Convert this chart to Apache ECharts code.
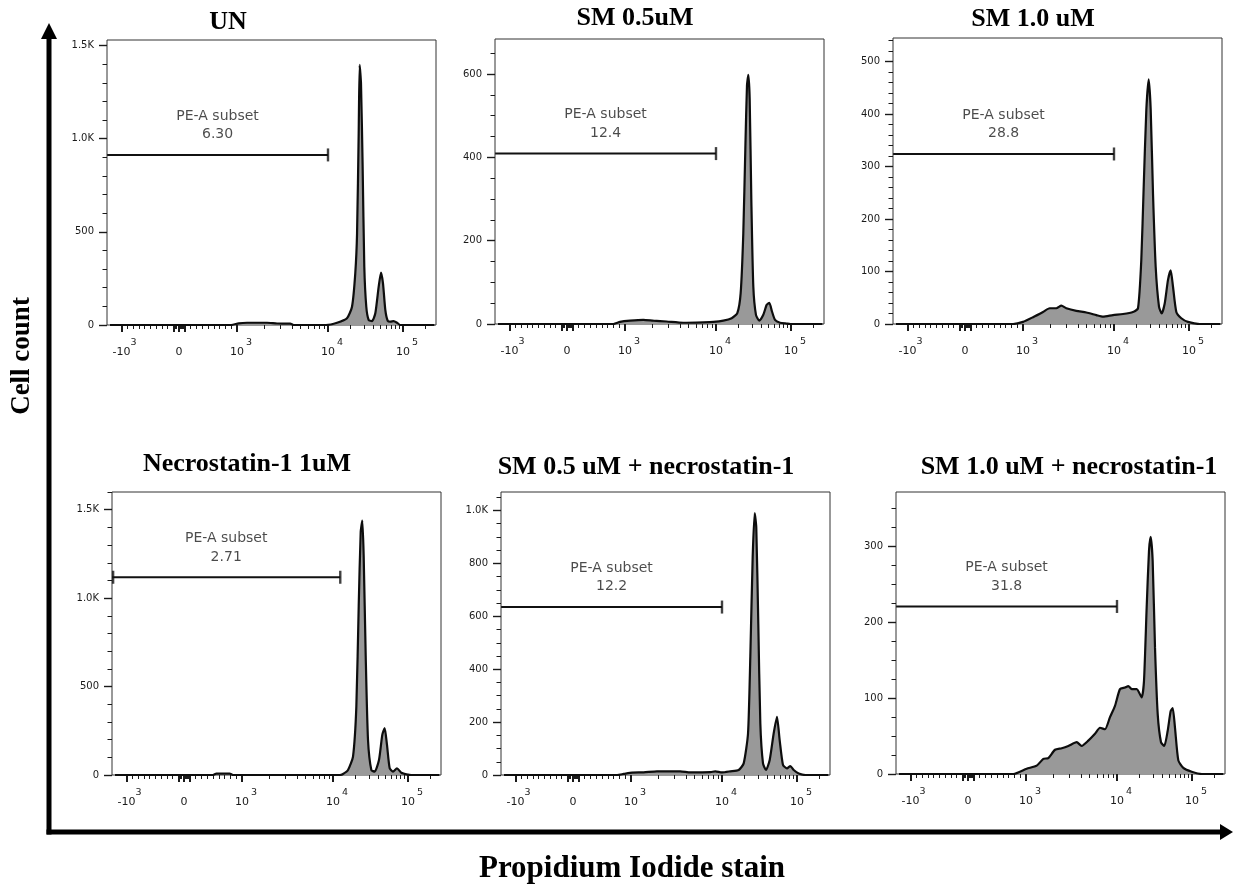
<!DOCTYPE html>
<html>
<head>
<meta charset="utf-8">
<script src="https://cdn.jsdelivr.net/npm/echarts@6/dist/echarts.min.js"></script>
<style>
  html, body { margin: 0; padding: 0; background: #fff; }
  #main { width: 1233px; height: 886px; }
</style>
</head>
<body>
<div id="main"></div>
<script>
// panel titles
var titles = ['UN', 'SM 0.5uM', 'SM 1.0 uM', 'Necrostatin-1 1uM', 'SM 0.5 uM + necrostatin-1', 'SM 1.0 uM + necrostatin-1'];

// histograms, [PI intensity, cell count]
var histUN = [[-1200,0],[900,0],[1044,9],[1290,12],[2140,12],[2750,8],[3850,7],[4200,0],[9500,0],[13200,12],[17900,36],[20900,98],[23100,277],[24400,492],[25650,1029],[26430,1396],[27540,1298],[28970,850],[30480,313],[32400,98],[34860,27],[38600,21],[42760,63],[47400,206],[50900,281],[54100,224],[58100,81],[62500,23],[67800,18],[75100,21],[83200,12],[92100,0],[262000,0]];
var histSM05 = [[-1200,0],[800,0],[914,5],[1135,8],[1590,10],[2050,8],[2870,6],[4380,3],[7260,4],[9350,5],[12500,8],[16170,14],[19230,26],[21320,74],[23120,218],[24600,419],[25880,572],[26980,598],[28130,540],[29580,299],[31440,90],[34120,22],[37780,8],[42730,22],[47400,46],[51400,51],[55800,30],[61200,10],[71300,3],[87600,1],[98000,0],[262000,0]];
var histSM10 = [[-1200,0],[828,0],[1000,4],[1288,13],[1660,23],[1963,30],[2324,30],[2640,35],[2995,30],[3855,25],[4970,22],[6400,17],[7570,14],[9750,17],[13180,19],[17910,23],[20890,30],[23120,122],[24890,262],[26980,408],[29020,466],[30860,408],[33110,249],[35950,109],[39810,33],[43240,20],[47420,39],[52480,84],[56990,102],[61200,71],[67780,23],[78950,11],[96960,4],[139000,0],[262000,0]];
var histNec = [[-1200,0],[500,0],[557,8],[788,8],[845,0],[12280,0],[13600,6],[15850,28],[18480,104],[20480,388],[22020,956],[23400,1373],[24600,1439],[25650,1240],[27300,672],[29290,199],[32440,28],[35970,19],[41020,85],[45420,227],[48850,265],[52480,170],[57000,38],[63100,19],[71300,38],[81400,13],[100000,2],[110000,0],[262000,0]];
var histSM05Nec = [[-1200,0],[760,0],[874,4],[1026,9],[1378,10],[1930,14],[3484,14],[4487,10],[7450,11],[8460,14],[10000,10],[12910,14],[16700,19],[19460,44],[22230,157],[23850,447],[25650,824],[27300,990],[28640,937],[30480,572],[32440,195],[35210,44],[38620,19],[43260,57],[48850,157],[54100,220],[58730,132],[65060,38],[73560,25],[81470,34],[90360,19],[105500,6],[129200,0],[262000,0]];
var histSM10Nec = [[-1200,0],[781,0],[1017,7],[1311,11],[1550,20],[1758,21],[2084,32],[2468,34],[2917,37],[3606,42],[4087,37],[4838,44],[5727,53],[6500,61],[7380,59],[8375,75],[9505,90],[10960,112],[12780,114],[14160,116],[15700,112],[18320,112],[21330,101],[22910,123],[24870,220],[26720,295],[28130,313],[29900,281],[32110,167],[34890,79],[38610,42],[42760,37],[47420,57],[51990,83],[55300,87],[59340,61],[65740,18],[76600,8],[99000,3],[135000,0],[262000,0]];
var hists = [histUN, histSM05, histSM10, histNec, histSM05Nec, histSM10Nec];

// "PE-A subset" gates
var gateStart = -1250;
var gateEnd = [10000, 10000, 10000, 12500, 10000, 10000];
var gateLevel = [913, 409, 324, 1118, 635, 221];
var gatePercent = ['6.30', '12.4', '28.8', '2.71', '12.2', '31.8'];
var gateLeftBar = [false, false, false, true, false, false];

// y axes
var yMax = [1530, 684, 545, 1600, 1070, 372];
var yStep = [500, 200, 100, 500, 200, 100];
var yMinorStep = [100, 50, 20, 100, 50, 25];

// x axis (biexponential display)
var xMajorTicks = [-1000, -100, 0, 100, 1000, 10000, 100000];
var xLabelValues = [-1000, 0, 1000, 10000, 100000];
var xLabelText = [['-10', '3'], ['0', ' '], ['10', '3'], ['10', '4'], ['10', '5']];
var xMinorTicks = [-900, -800, -700, -600, -500, -400, -300, -200,
  -80, -60, -40, -20, 20, 40, 60, 80,
  200, 300, 400, 500, 600, 700, 800, 900,
  2000, 3000, 4000, 5000, 6000, 7000, 8000, 9000,
  20000, 30000, 40000, 50000, 60000, 70000, 80000, 90000, 200000];

// panel frames in the page
var boxes = [
  {left: 107, top: 40, height: 285},
  {left: 495, top: 39, height: 285},
  {left: 893, top: 38, height: 286},
  {left: 112, top: 492, height: 283},
  {left: 501, top: 492, height: 283},
  {left: 896, top: 492, height: 282}
];
var titlePos = [[228, 22], [635, 18], [1033, 19], [247, 464], [646, 467], [1069, 467]];
var X_MAX = 329;

// logicle-like display transform
function toDisplay(v) {
  if (v < 0) return 72 + 57.5 * v / 1000;
  if (v < 1000) return 72 + 58 * v / 1000;
  if (v < 10000) return 130 + 91 * (Math.log10(v) - 3);
  return 221 + 75 * (Math.log10(v) - 4);
}

function range(step, max) {
  var out = [];
  for (var v = 0; v <= max + 1e-6; v += step) out.push(v);
  return out;
}

var xLabelD = xLabelValues.map(toDisplay);
var TICK = '#1a1a1a';
var LABEL_FONT = 'DejaVu Sans';

var grids = [], xAxes = [], yAxes = [], series = [], graphics = [];

hists.forEach(function (hist, i) {
  var b = boxes[i];
  grids.push({
    left: b.left, top: b.top, width: X_MAX, height: b.height,
    show: true, borderColor: '#333', borderWidth: 1,
    containLabel: false, outerBoundsMode: 'none'
  });

  xAxes.push({
    gridIndex: i, type: 'value', min: 0, max: X_MAX, position: 'bottom',
    axisLine: {show: false}, splitLine: {show: false},
    axisTick: {show: true, customValues: xMajorTicks.map(toDisplay), length: 7,
      lineStyle: {color: TICK, width: 2}},
    axisLabel: {
      customValues: xLabelD, margin: 14,
      formatter: function (val) {
        var k = 0;
        xLabelD.forEach(function (d, j) {
          if (Math.abs(d - val) < Math.abs(xLabelD[k] - val)) k = j;
        });
        return '{sup|' + xLabelText[k][1] + '}\n{base|' + xLabelText[k][0] + '}';
      },
      rich: {
        sup: {fontSize: 9.5, lineHeight: 8, padding: [0, 0, 0, 24], fontFamily: LABEL_FONT, color: TICK},
        base: {fontSize: 11, lineHeight: 10, fontFamily: LABEL_FONT, color: TICK}
      }
    }
  });
  xAxes.push({
    gridIndex: i, type: 'value', min: 0, max: X_MAX, position: 'bottom',
    axisLine: {show: false}, splitLine: {show: false},
    axisTick: {show: true, customValues: xMinorTicks.map(toDisplay), length: 4,
      lineStyle: {color: TICK, width: 1}},
    axisLabel: {show: false}
  });

  yAxes.push({
    gridIndex: i, type: 'value', min: 0, max: yMax[i], position: 'left',
    axisLine: {show: false}, splitLine: {show: false},
    axisTick: {show: true, customValues: range(yStep[i], yMax[i]), length: 8,
      lineStyle: {color: TICK, width: 1.4}},
    axisLabel: {
      customValues: range(yStep[i], yMax[i]), margin: 13,
      fontSize: 10, fontFamily: LABEL_FONT, color: TICK,
      formatter: function (v) { return v >= 1000 ? (v / 1000).toFixed(1) + 'K' : String(v); }
    }
  });
  yAxes.push({
    gridIndex: i, type: 'value', min: 0, max: yMax[i], position: 'left',
    axisLine: {show: false}, splitLine: {show: false},
    axisTick: {show: true, customValues: range(yMinorStep[i], yMax[i]), length: 4.5,
      lineStyle: {color: TICK, width: 1}},
    axisLabel: {show: false}
  });

  var xa = 2 * i, ya = 2 * i;
  series.push({
    type: 'line', xAxisIndex: xa, yAxisIndex: ya,
    data: hist.map(function (p) { return [toDisplay(p[0]), p[1]]; }),
    showSymbol: false, smooth: 0.2,
    lineStyle: {color: '#0d0d0d', width: 2.2},
    areaStyle: {color: '#999999', opacity: 1},
    z: 2
  });

  var g0 = toDisplay(gateStart), g1 = toDisplay(gateEnd[i]), lvl = gateLevel[i];
  series.push({
    type: 'line', xAxisIndex: xa, yAxisIndex: ya,
    data: [[g0, lvl], [g1, lvl]], showSymbol: false, symbol: 'none',
    lineStyle: {color: '#111', width: 2}, z: 3
  });
  var bars = [[g1, lvl]];
  if (gateLeftBar[i]) bars.push([g0 + 1, lvl]);
  series.push({
    type: 'scatter', xAxisIndex: xa, yAxisIndex: ya,
    data: bars, symbol: 'rect', symbolSize: [2.4, 13],
    itemStyle: {color: '#111'}, z: 3
  });
  series.push({
    type: 'scatter', xAxisIndex: xa, yAxisIndex: ya,
    data: [[(g0 + g1) / 2, lvl]], symbolSize: 0,
    label: {
      show: true, position: 'top', distance: 11,
      formatter: 'PE-A subset\n' + gatePercent[i],
      fontFamily: LABEL_FONT, fontSize: 14, lineHeight: 18.5,
      color: '#1e1e1e', align: 'center'
    },
    z: 3
  });

  graphics.push({
    type: 'text', x: titlePos[i][0], y: titlePos[i][1],
    style: {text: titles[i], fontFamily: 'Liberation Serif', fontWeight: 'bold', fontSize: 26,
      fill: '#000', align: 'center', verticalAlign: 'middle'}
  });
});

// big axis arrows and axis titles
graphics.push(
  {type: 'line', shape: {x1: 49, y1: 36, x2: 49, y2: 834.5}, style: {stroke: '#000', lineWidth: 5}},
  {type: 'line', shape: {x1: 46.5, y1: 832, x2: 1222, y2: 832}, style: {stroke: '#000', lineWidth: 5}},
  {type: 'polygon', shape: {points: [[49, 23], [41, 39], [57, 39]]}, style: {fill: '#000'}},
  {type: 'polygon', shape: {points: [[1233, 832], [1220, 824], [1220, 840]]}, style: {fill: '#000'}},
  {type: 'text', x: 22, y: 356, rotation: Math.PI / 2,
    style: {text: 'Cell count', fontFamily: 'Liberation Serif', fontWeight: 'bold', fontSize: 27,
      fill: '#000', align: 'center', verticalAlign: 'middle'}},
  {type: 'text', x: 632, y: 869,
    style: {text: 'Propidium Iodide stain', fontFamily: 'Liberation Serif', fontWeight: 'bold', fontSize: 31,
      fill: '#000', align: 'center', verticalAlign: 'middle'}}
);

var chart = echarts.init(document.getElementById('main'));
chart.setOption({
  animation: false,
  backgroundColor: '#fff',
  grid: grids,
  xAxis: xAxes,
  yAxis: yAxes,
  series: series,
  graphic: {elements: graphics}
});
</script>
</body>
</html>
